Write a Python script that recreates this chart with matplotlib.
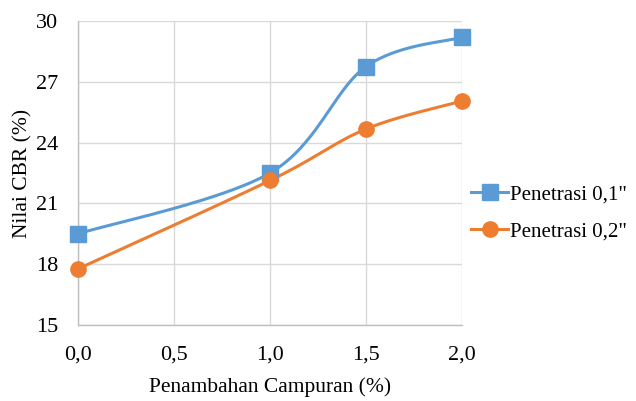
import numpy as np
import matplotlib
matplotlib.use("Agg")
import matplotlib.pyplot as plt

x_vals = [0.0, 1.0, 1.5, 2.0]
pen_01 = [19.5, 22.5, 27.75, 29.2]
pen_02 = [17.77, 22.13, 24.67, 26.05]
labels = ['Penetrasi 0,1"', 'Penetrasi 0,2"']
xticks = [0.0, 0.5, 1.0, 1.5, 2.0]
xtick_labels = ["0,0", "0,5", "1,0", "1,5", "2,0"]
yticks = [15, 18, 21, 24, 27, 30]

plt.rcParams['font.family'] = ['Liberation Serif', 'DejaVu Serif']


def smooth(xs, ys, n=60):
    xs = np.asarray(xs, float)
    ys = np.asarray(ys, float)
    P = np.column_stack([xs, ys])
    out = []
    m = len(P)
    for i in range(m - 1):
        p0 = P[i - 1] if i > 0 else P[i]
        p1 = P[i]
        p2 = P[i + 1]
        p3 = P[i + 2] if i + 2 < m else P[i + 1]
        c1 = p1 + (p2 - p0) / 6.0
        c2 = p2 - (p3 - p1) / 6.0
        t = np.linspace(0, 1, n)[:, None]
        seg = ((1 - t) ** 3) * p1 + 3 * ((1 - t) ** 2) * t * c1 + 3 * (1 - t) * t ** 2 * c2 + t ** 3 * p2
        out.append(seg if i == 0 else seg[1:])
    s = np.vstack(out)
    return s[:, 0], s[:, 1]


fig = plt.figure(figsize=(6.36, 4.01), dpi=100)
ax = fig.add_axes([78 / 636, 1 - 325 / 401, (462 - 78) / 636, (325 - 21) / 401])

colors = ['#5B9BD5', '#ED7D31']
markers = ['s', 'o']
handles = []
for ys, c, mk, lab in zip([pen_01, pen_02], colors, markers, labels):
    sx, sy = smooth(x_vals, ys)
    ax.plot(sx, sy, color=c, lw=2.2, zorder=3, solid_capstyle='round')
    ax.plot(x_vals, ys, linestyle='none', marker=mk, ms=11, color=c, zorder=4, clip_on=False)
    h, = ax.plot([], [], color=c, lw=2.2, marker=mk, ms=11, label=lab)
    handles.append(h)

ax.set_xlim(0, 2)
ax.set_ylim(15, 30)
ax.set_xticks(xticks)
ax.set_xticklabels(xtick_labels)
ax.set_yticks(yticks)
ax.grid(True, color='#d9d9d9', lw=1)
ax.set_axisbelow(True)
for s in ['top', 'right']:
    ax.spines[s].set_visible(False)
for s in ['left', 'bottom']:
    ax.spines[s].set_color('#bfbfbf')
    ax.spines[s].set_linewidth(1)
ax.tick_params(length=0, labelsize=16, colors='black')
ax.tick_params(axis='x', pad=15)
ax.tick_params(axis='y', pad=14)
ax.set_xlabel('Penambahan Campuran (%)', fontsize=15.5, labelpad=9)
ax.set_ylabel('Nilai CBR (%)', fontsize=15.5, labelpad=3)

fig.legend(handles=handles, loc='center left', bbox_to_anchor=(463 / 636, 1 - 213 / 401),
           frameon=False, fontsize=15, handlelength=1.75, handletextpad=0.1,
           labelspacing=0.85, borderaxespad=0)

fig.savefig('out.png', dpi=100)
